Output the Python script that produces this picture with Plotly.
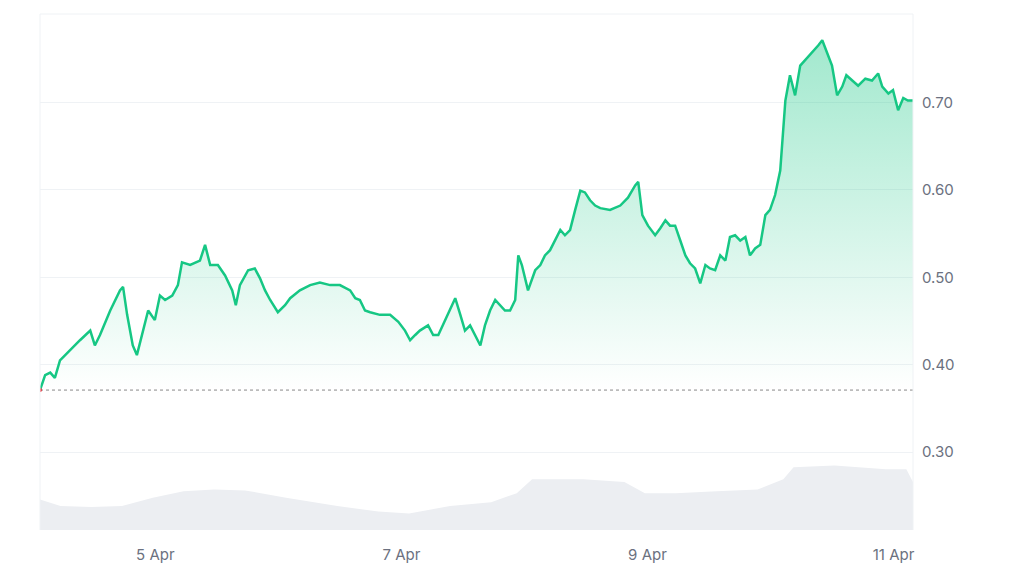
import plotly.graph_objects as go
import pandas as pd

# hours since start (4 Apr ~01:30) and price
hours = [0, 1, 2, 2.9, 3.9, 5.9, 7.8, 9.8, 10.7, 11.7, 13.7, 15.6, 16.2, 17, 18.1, 18.9, 19.9, 21.1,
         22.4, 23.4, 24.4, 25.8, 26.9, 27.7, 29.3, 31.2, 32.2, 33.2, 34.7, 36.1, 37.5, 38.2, 39,
         40.6, 41.9, 42.9, 43.9, 44.9, 46.4, 47.8, 48.8, 50.7, 52.7, 54.6, 56.6, 58.5, 60.5, 61.5,
         62.4, 63.4, 64.4, 66.3, 68.3, 69.9, 71.2, 72.2, 73.2, 74.1, 75.7, 76.7, 77.7, 79, 80, 81,
         82, 82.9, 83.9, 84.9, 85.9, 86.8, 87.8, 88.8, 89.8, 90.7, 91.7, 92.7, 93.3, 94, 95.2, 96.6,
         97.6, 98.5, 99.5, 100.5, 101.5, 102.4, 103.4, 104.4, 105.4, 106.3, 107.3, 108.3, 109.3,
         111.2, 113.2, 114.7, 116.1, 116.7, 117.5, 118.6, 120, 121, 122, 122.9, 123.9, 124.9,
         125.9, 126.8, 127.8, 128.8, 129.8, 130.7, 131.7, 132.7, 133.7, 134.6, 135.6, 136.6,
         137.6, 138.5, 139.5, 140.5, 141.5, 142.4, 143.4, 144.4, 145.4, 146.3, 147.3, 148.3,
         150.2, 151.8, 152.6, 153.7, 154.5, 155.5, 156.5, 157.3, 158.4, 159.6, 161, 162.3, 163.5,
         164.3, 165.5, 166.4, 167.4, 168.4, 169.3, 170.3]
prices = [0.371, 0.388, 0.391, 0.385, 0.405, 0.417, 0.428, 0.439, 0.422, 0.434, 0.462, 0.485, 0.489,
          0.457, 0.422, 0.411, 0.434, 0.462, 0.451, 0.479, 0.474, 0.479, 0.491, 0.517, 0.514, 0.519,
          0.537, 0.514, 0.514, 0.502, 0.485, 0.468, 0.491, 0.508, 0.510, 0.499, 0.485, 0.474, 0.460,
          0.468, 0.476, 0.485, 0.491, 0.494, 0.491, 0.491, 0.485, 0.476, 0.474, 0.462, 0.460, 0.457,
          0.457, 0.449, 0.439, 0.428, 0.434, 0.439, 0.445, 0.434, 0.434, 0.451, 0.462, 0.476, 0.457,
          0.439, 0.445, 0.434, 0.422, 0.445, 0.462, 0.474, 0.468, 0.462, 0.462, 0.474, 0.525, 0.514,
          0.485, 0.508, 0.514, 0.525, 0.531, 0.542, 0.554, 0.548, 0.554, 0.577, 0.599, 0.597, 0.588,
          0.582, 0.579, 0.577, 0.582, 0.591, 0.605, 0.609, 0.571, 0.559, 0.548, 0.556, 0.565, 0.559,
          0.559, 0.542, 0.525, 0.516, 0.510, 0.493, 0.514, 0.510, 0.508, 0.525, 0.519, 0.546, 0.548,
          0.542, 0.546, 0.525, 0.533, 0.537, 0.571, 0.577, 0.594, 0.622, 0.702, 0.731, 0.708, 0.742,
          0.754, 0.765, 0.771, 0.754, 0.742, 0.708, 0.718, 0.731, 0.725, 0.719, 0.727, 0.725, 0.733,
          0.718, 0.710, 0.714, 0.691, 0.705, 0.702, 0.702]

vol_hours = [0, 4, 10, 16, 22, 28, 34, 40, 48, 58, 66, 72, 80, 88, 93, 96, 106, 114, 118, 124,
             132, 140, 145, 147, 155, 165, 169, 170.3]
volumes = [33, 26, 25, 26, 35, 42, 44, 43, 35, 26, 20, 18, 26, 30, 40, 55, 55, 52, 40, 40,
           42, 44, 55, 68, 70, 66, 66, 52]

start = pd.Timestamp("2024-04-04 01:30")
t = [start + pd.Timedelta(hours=h) for h in hours]
vt = [start + pd.Timedelta(hours=h) for h in vol_hours]
base = prices[0]

fig = go.Figure()
fig.add_trace(go.Scatter(x=vt, y=volumes, yaxis="y2", mode="lines", line=dict(width=0),
                         fill="tozeroy", fillcolor="#eceef2", hoverinfo="skip"))
fig.add_trace(go.Scatter(x=[t[0], t[-1]], y=[base, base], mode="lines",
                         line=dict(color="#888", width=1, dash="dot"), hoverinfo="skip"))
fig.add_trace(go.Scatter(x=t, y=prices, mode="lines", line=dict(color="#16c784", width=2.5),
                         fill="tonexty",
                         fillgradient=dict(type="vertical",
                                           colorscale=[[0, "rgba(22,199,132,0)"],
                                                       [1, "rgba(22,199,132,0.4)"]])))
fig.add_trace(go.Scatter(x=[t[0]], y=[base], mode="markers",
                         marker=dict(color="#ea3943", size=4)))

fig.update_layout(
    width=1024, height=576, showlegend=False,
    plot_bgcolor="white", paper_bgcolor="white",
    margin=dict(l=32, r=119, t=6, b=54),
    font=dict(family="Inter, Roboto, sans-serif", color="#6b7180", size=15),
    xaxis=dict(range=[t[0], t[-1]], showgrid=False, zeroline=False,
               tickvals=[pd.Timestamp("2024-04-05"), pd.Timestamp("2024-04-07"),
                         pd.Timestamp("2024-04-09"), pd.Timestamp("2024-04-11")],
               ticktext=["5 Apr", "7 Apr", "9 Apr", "11 Apr"], ticks="", ticklen=0,
               showline=False, ticklabelstandoff=14),
    yaxis=dict(side="right", range=[0.211, 0.801], tickvals=[0.3, 0.4, 0.5, 0.6, 0.7],
               tickformat=".2f", gridcolor="#eff2f5", zeroline=False, showline=False,
               ticklabelstandoff=8),
    yaxis2=dict(overlaying="y", range=[0, 560], visible=False),
    shapes=[dict(type="line", xref="paper", yref="paper", x0=0, x1=1, y0=1, y1=1,
                 line=dict(color="#eff2f5", width=1)),
            dict(type="line", xref="paper", yref="paper", x0=0, x1=0, y0=0, y1=1,
                 line=dict(color="#eff2f5", width=1)),
            dict(type="line", xref="paper", yref="paper", x0=1, x1=1, y0=0, y1=1,
                 line=dict(color="#eff2f5", width=1))],
)

fig.write_html("out.html")
